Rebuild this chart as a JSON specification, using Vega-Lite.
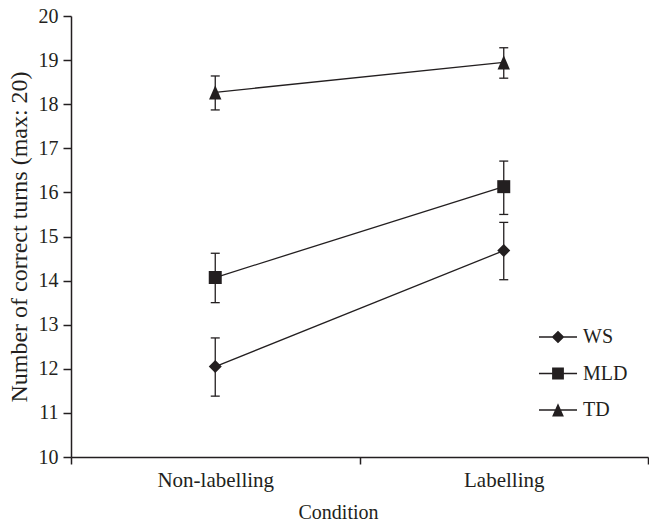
{
  "$schema": "https://vega.github.io/schema/vega-lite/v6.json",
  "width": 577,
  "height": 441,
  "autosize": "none",
  "padding": {"left": 71, "top": 16, "right": 1, "bottom": 65},
  "background": "white",
  "config": {
    "font": "Liberation Serif",
    "view": {"stroke": null},
    "axis": {
      "grid": false,
      "domainColor": "#231f20",
      "domainWidth": 1.5,
      "tickColor": "#231f20",
      "tickWidth": 1.5,
      "labelColor": "#231f20",
      "titleColor": "#231f20",
      "labelFont": "Liberation Serif",
      "titleFont": "Liberation Serif",
      "labelFontSize": 20,
      "titleFontSize": 20,
      "titleFontWeight": "normal"
    },
    "legend": {
      "labelFont": "Liberation Serif",
      "labelFontSize": 20,
      "labelColor": "#231f20"
    }
  },
  "data": {
    "values": [
      {"group": "WS", "condition": "Non-labelling", "mean": 12.05, "lo": 11.38, "hi": 12.70},
      {"group": "WS", "condition": "Labelling", "mean": 14.68, "lo": 14.02, "hi": 15.32},
      {"group": "MLD", "condition": "Non-labelling", "mean": 14.07, "lo": 13.50, "hi": 14.62},
      {"group": "MLD", "condition": "Labelling", "mean": 16.13, "lo": 15.50, "hi": 16.71},
      {"group": "TD", "condition": "Non-labelling", "mean": 18.27, "lo": 17.87, "hi": 18.64},
      {"group": "TD", "condition": "Labelling", "mean": 18.95, "lo": 18.59, "hi": 19.28}
    ]
  },
  "encoding": {
    "x": {
      "field": "condition",
      "type": "nominal",
      "sort": ["Non-labelling", "Labelling"],
      "scale": {"paddingInner": 0, "paddingOuter": 0},
      "axis": {
        "title": "Condition",
        "labelAngle": 0,
        "labelFontSize": 21,
        "tickBand": "extent",
        "tickSize": 7,
        "labelPadding": 5,
        "titlePadding": 12,
        "titleX": 267,
        "titleAlign": "center"
      }
    }
  },
  "resolve": {"scale": {"shape": "independent"}, "legend": {"shape": "independent"}},
  "layer": [
    {
      "mark": {"type": "rule", "strokeWidth": 1.3, "color": "#231f20"},
      "encoding": {
        "y": {
          "field": "lo",
          "type": "quantitative",
          "scale": {"domain": [10, 20], "nice": false, "zero": false},
          "axis": {
            "title": "Number of correct turns (max: 20)",
            "titleFontSize": 24,
            "values": [10, 11, 12, 13, 14, 15, 16, 17, 18, 19, 20],
            "tickSize": 8,
            "labelPadding": 5,
            "titlePadding": 7
          }
        },
        "y2": {"field": "hi"},
        "detail": {"field": "group"}
      }
    },
    {
      "mark": {"type": "tick", "size": 9, "thickness": 1.3, "color": "#231f20", "opacity": 1},
      "encoding": {"y": {"field": "lo", "type": "quantitative"}, "detail": {"field": "group"}}
    },
    {
      "mark": {"type": "tick", "size": 9, "thickness": 1.3, "color": "#231f20", "opacity": 1},
      "encoding": {"y": {"field": "hi", "type": "quantitative"}, "detail": {"field": "group"}}
    },
    {
      "mark": {"type": "line", "color": "#231f20", "strokeWidth": 1.3},
      "encoding": {"y": {"field": "mean", "type": "quantitative"}, "detail": {"field": "group"}}
    },
    {
      "mark": {"type": "point", "filled": true, "opacity": 1, "color": "#231f20", "size": 169, "strokeWidth": 0},
      "encoding": {
        "y": {"field": "mean", "type": "quantitative"},
        "shape": {
          "field": "group",
          "type": "nominal",
          "scale": {"domain": ["WS", "MLD", "TD"], "range": ["diamond", "square", "M0,-1.1L0.95,1.1L-0.95,1.1Z"]},
          "legend": null
        }
      }
    },
    {
      "mark": {"type": "point", "filled": true, "opacity": 0, "color": "#231f20", "size": 870, "strokeWidth": 0},
      "encoding": {
        "y": {"field": "mean", "type": "quantitative"},
        "shape": {
          "field": "group",
          "type": "nominal",
          "scale": {
            "domain": ["WS", "MLD", "TD"],
            "range": [
              "M-1.29,-0.044H1.29V0.044H-1.29Z M0,-0.43L0.43,0L0,0.43L-0.43,0Z",
              "M-1.29,-0.044H1.29V0.044H-1.29Z M-0.4,-0.4H0.4V0.4H-0.4Z",
              "M-1.29,-0.044H1.29V0.044H-1.29Z M0,-0.46L0.4,0.44L-0.4,0.44Z"
            ]
          },
          "legend": {
            "title": null,
            "orient": "none",
            "legendX": 472,
            "legendY": 306,
            "padding": 0,
            "symbolSize": 870,
            "symbolOpacity": 1,
            "symbolFillColor": "#231f20",
            "symbolStrokeWidth": 0,
            "labelOffset": 10,
            "rowPadding": 11.5
          }
        }
      }
    }
  ]
}
